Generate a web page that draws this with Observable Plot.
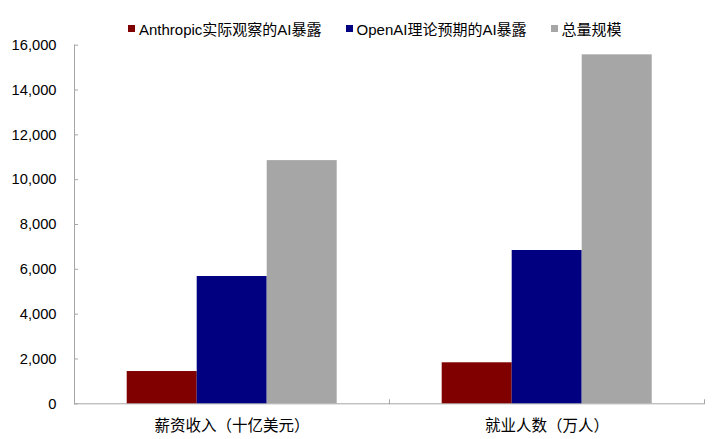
<!DOCTYPE html>
<html><head><meta charset="utf-8">
<script src="https://cdn.jsdelivr.net/npm/d3@7"></script>
<script src="https://cdn.jsdelivr.net/npm/@observablehq/plot@0.6"></script>
<style>
html,body{margin:0;padding:0;background:#fff;overflow:hidden;}
#legend{height:36px;position:relative;font-family:"Liberation Sans","Noto Sans CJK SC",Arial,sans-serif;font-size:15px;color:#000;}
#legend .items{position:absolute;left:128px;top:18px;height:20px;display:flex;align-items:center;}
.item{display:flex;align-items:center;margin-right:24px;white-space:nowrap;}
.sw{width:7px;height:7px;margin-right:4px;flex:none;}
</style></head><body>
<div id="legend"><div class="items"></div></div>
<div id="chart"></div>
<script>
const categories = ["薪资收入（十亿美元）", "就业人数（万人）"];
const series = ["Anthropic实际观察的AI暴露", "OpenAI理论预期的AI暴露", "总量规模"];
const colors = ["#800000", "#000080", "#a6a6a6"];
const anthropic = [1440, 1830];
const openai = [5680, 6840];
const total = [10850, 15570];
const yTicks = [0, 2000, 4000, 6000, 8000, 10000, 12000, 14000, 16000];

const values = [anthropic, openai, total];
const rows = categories.flatMap((c, i) => series.map((s, j) => ({category: c, series: s, value: values[j][i]})));

// legend
const items = document.querySelector("#legend .items");
series.forEach((s, j) => {
  const it = document.createElement("div");
  it.className = "item";
  const sw = document.createElement("span");
  sw.className = "sw";
  sw.style.background = colors[j];
  const t = document.createElement("span");
  t.textContent = s;
  it.appendChild(sw); it.appendChild(t);
  items.appendChild(it);
});

const axisColor = "#a6a6a6";
const H = 403, mt = 8.7, mb = 35.7, ml = 73.3, mr = 20.7;
const innerH = H - mt - mb;

const chart = Plot.plot({
  width: 725, height: H,
  marginTop: mt, marginBottom: mb, marginLeft: ml, marginRight: mr,
  style: {fontFamily: '"Liberation Sans","Noto Sans CJK SC",Arial,sans-serif', color: "#000", background: "#fff"},
  fx: {domain: categories, paddingInner: 0, paddingOuter: 0, label: null},
  x: {domain: series, paddingInner: 0, paddingOuter: 0.75, axis: null},
  y: {domain: [0, 16000], label: null},
  color: {domain: series, range: colors},
  marks: [
    Plot.ruleY([0], {stroke: axisColor}),
    Plot.frame({anchor: "left", facetAnchor: "left", stroke: axisColor}),
    Plot.frame({anchor: "right", insetTop: innerH - 4, stroke: axisColor}),
    Plot.barY(rows, {fx: "category", x: "series", y: "value", fill: "series"}),
    Plot.axisY({ticks: yTicks, tickSize: 4, dx: 4, tickFormat: () => "", stroke: axisColor}),
    Plot.axisY({ticks: yTicks, tickSize: 0, tickPadding: 18, tickFormat: d3.format(","), fontSize: 14.7, fill: "#000"}),
    Plot.axisFx({anchor: "bottom", tickSize: 0, tickPadding: 16, fontSize: 15.5, fill: "#000"})
  ]
});
document.getElementById("chart").appendChild(chart);
</script>
</body></html>
